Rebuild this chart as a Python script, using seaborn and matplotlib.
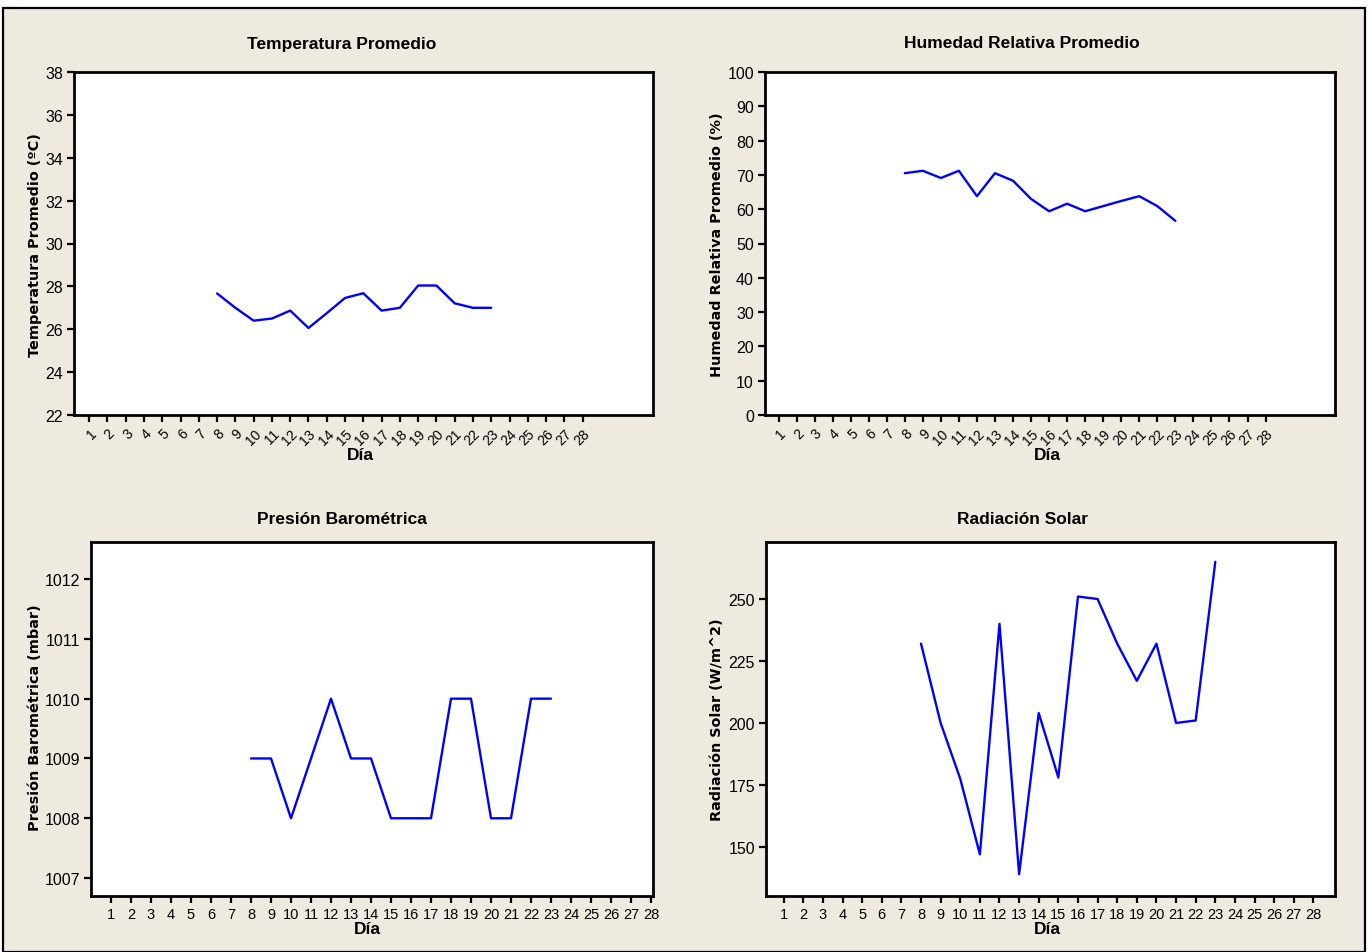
import matplotlib
matplotlib.use("Agg")
import matplotlib.pyplot as plt
from matplotlib.patches import Rectangle
import seaborn as sns
import pandas as pd

# ---------------- data ----------------
days = [8, 9, 10, 11, 12, 13, 14, 15, 16, 17, 18, 19, 20, 21, 22, 23]
temperatura = [27.67, 27.0, 26.4, 26.5, 26.87, 26.06, 26.75, 27.46, 27.68, 26.87,
               27.0, 28.04, 28.04, 27.21, 27.0, 27.0]
humedad = [70.5, 71.2, 69.1, 71.2, 63.8, 70.5, 68.3, 63.0, 59.4, 61.6,
           59.4, 60.9, 62.4, 63.8, 60.9, 56.6]
presion = [1009, 1009, 1008, 1009, 1010, 1009, 1009, 1008, 1008, 1008,
           1010, 1010, 1008, 1008, 1010, 1010]
radiacion = [232, 200, 177.5, 147, 240, 139, 204, 178, 251, 250,
             232, 217, 232, 200, 201, 265]
tick_days = list(range(1, 29))

titles = ["Temperatura Promedio", "Humedad Relativa Promedio",
          "Presión Barométrica", "Radiación Solar"]
ylabels = ["Temperatura Promedio (ºC)", "Humedad Relativa Promedio (%)",
           "Presión Barométrica (mbar)", "Radiación Solar (W/m^2)"]
xlabel = "Día"
temp_ticks = [22, 24, 26, 28, 30, 32, 34, 36, 38]
hum_ticks = [0, 10, 20, 30, 40, 50, 60, 70, 80, 90, 100]
pres_ticks = [1007, 1008, 1009, 1010, 1011, 1012]
rad_ticks = [150, 175, 200, 225, 250]

# ---------------- style ----------------
sns.set_style("ticks")
NARROW = ["Liberation Sans", "DejaVu Sans"]
plt.rcParams["font.family"] = NARROW
plt.rcParams["text.color"] = "black"

W, H = 1372, 953
fig = plt.figure(figsize=(W / 100, H / 100), dpi=100)
fig.patch.set_facecolor("white")
fig.patches.append(Rectangle((3 / W, 0), 1362 / W, 1 - 9 / H, transform=fig.transFigure,
                             facecolor="#EEEAE0", edgecolor="black", linewidth=1.6,
                             zorder=-10))


def box(x0, y0, x1, y1):
    return [x0 / W, 1 - y1 / H, (x1 - x0) / W, (y1 - y0) / H]


panels = [
    dict(rect=box(74, 73, 653, 416), y=temperatura, ticks=temp_ticks, ylim=(22, 38),
         xlim=(0.17, 31.85), rot=True, title_xy=(342, 44), ylab_xy=(35, 245), xlab_xy=(360, 456)),
    dict(rect=box(765, 73, 1335, 416), y=humedad, ticks=hum_ticks, ylim=(0, 100),
         xlim=(0.25, 31.85), rot=True, title_xy=(1022, 44), ylab_xy=(717, 245), xlab_xy=(1047, 456)),
    dict(rect=box(91, 543, 653, 897), y=presion, ticks=pres_ticks, ylim=(1006.70, 1012.62),
         xlim=(0.0, 28.1), rot=False, title_xy=(342, 520), ylab_xy=(35, 718), xlab_xy=(367, 930)),
    dict(rect=box(766, 543, 1335, 897), y=radiacion, ticks=rad_ticks, ylim=(130.2, 273),
         xlim=(0.1, 29.1), rot=False, title_xy=(1022, 520), ylab_xy=(717, 720), xlab_xy=(1047, 930)),
]

for i, p in enumerate(panels):
    ax = fig.add_axes(p["rect"])
    ax.set_facecolor("white")
    df = pd.DataFrame({"Día": days, "valor": p["y"]})
    sns.lineplot(data=df, x="Día", y="valor", ax=ax, color="#0000FF", linewidth=1.7)
    ax.set_xlim(*p["xlim"])
    ax.set_ylim(*p["ylim"])
    ax.set_xticks(tick_days)
    ax.set_yticks(p["ticks"])
    ax.set_yticklabels([str(t) for t in p["ticks"]])
    if p["rot"]:
        ax.set_xticklabels([str(t) for t in tick_days], rotation=45, ha="right",
                           rotation_mode="anchor", fontsize=10)
    else:
        ax.set_xticklabels([str(t) for t in tick_days], fontsize=10.5)
    for lab in ax.get_yticklabels():
        lab.set_fontsize(11.5)
    ax.tick_params(axis="both", direction="out", length=5, width=1.6, color="black",
                   pad=3, labelcolor="black")
    for s in ax.spines.values():
        s.set_color("black")
        s.set_linewidth(2.0)
        s.set_visible(True)
    ax.set_xlabel("")
    ax.set_ylabel("")

    tx, ty = p["title_xy"]
    fig.text(tx / W, 1 - ty / H, titles[i], ha="center", va="center",
             fontsize=12.5, fontweight="bold", family=NARROW, color="black")
    lx, ly = p["ylab_xy"]
    fig.text(lx / W, 1 - ly / H, ylabels[i], ha="center", va="center", rotation=90,
             fontsize=10.4, fontweight="bold", family=["DejaVu Sans"], color="black")
    xx, xy = p["xlab_xy"]
    fig.text(xx / W, 1 - xy / H, xlabel, ha="center", va="center",
             fontsize=12.5, fontweight="bold", family=NARROW, color="black")

fig.savefig("out.png", dpi=100, facecolor=fig.get_facecolor())
